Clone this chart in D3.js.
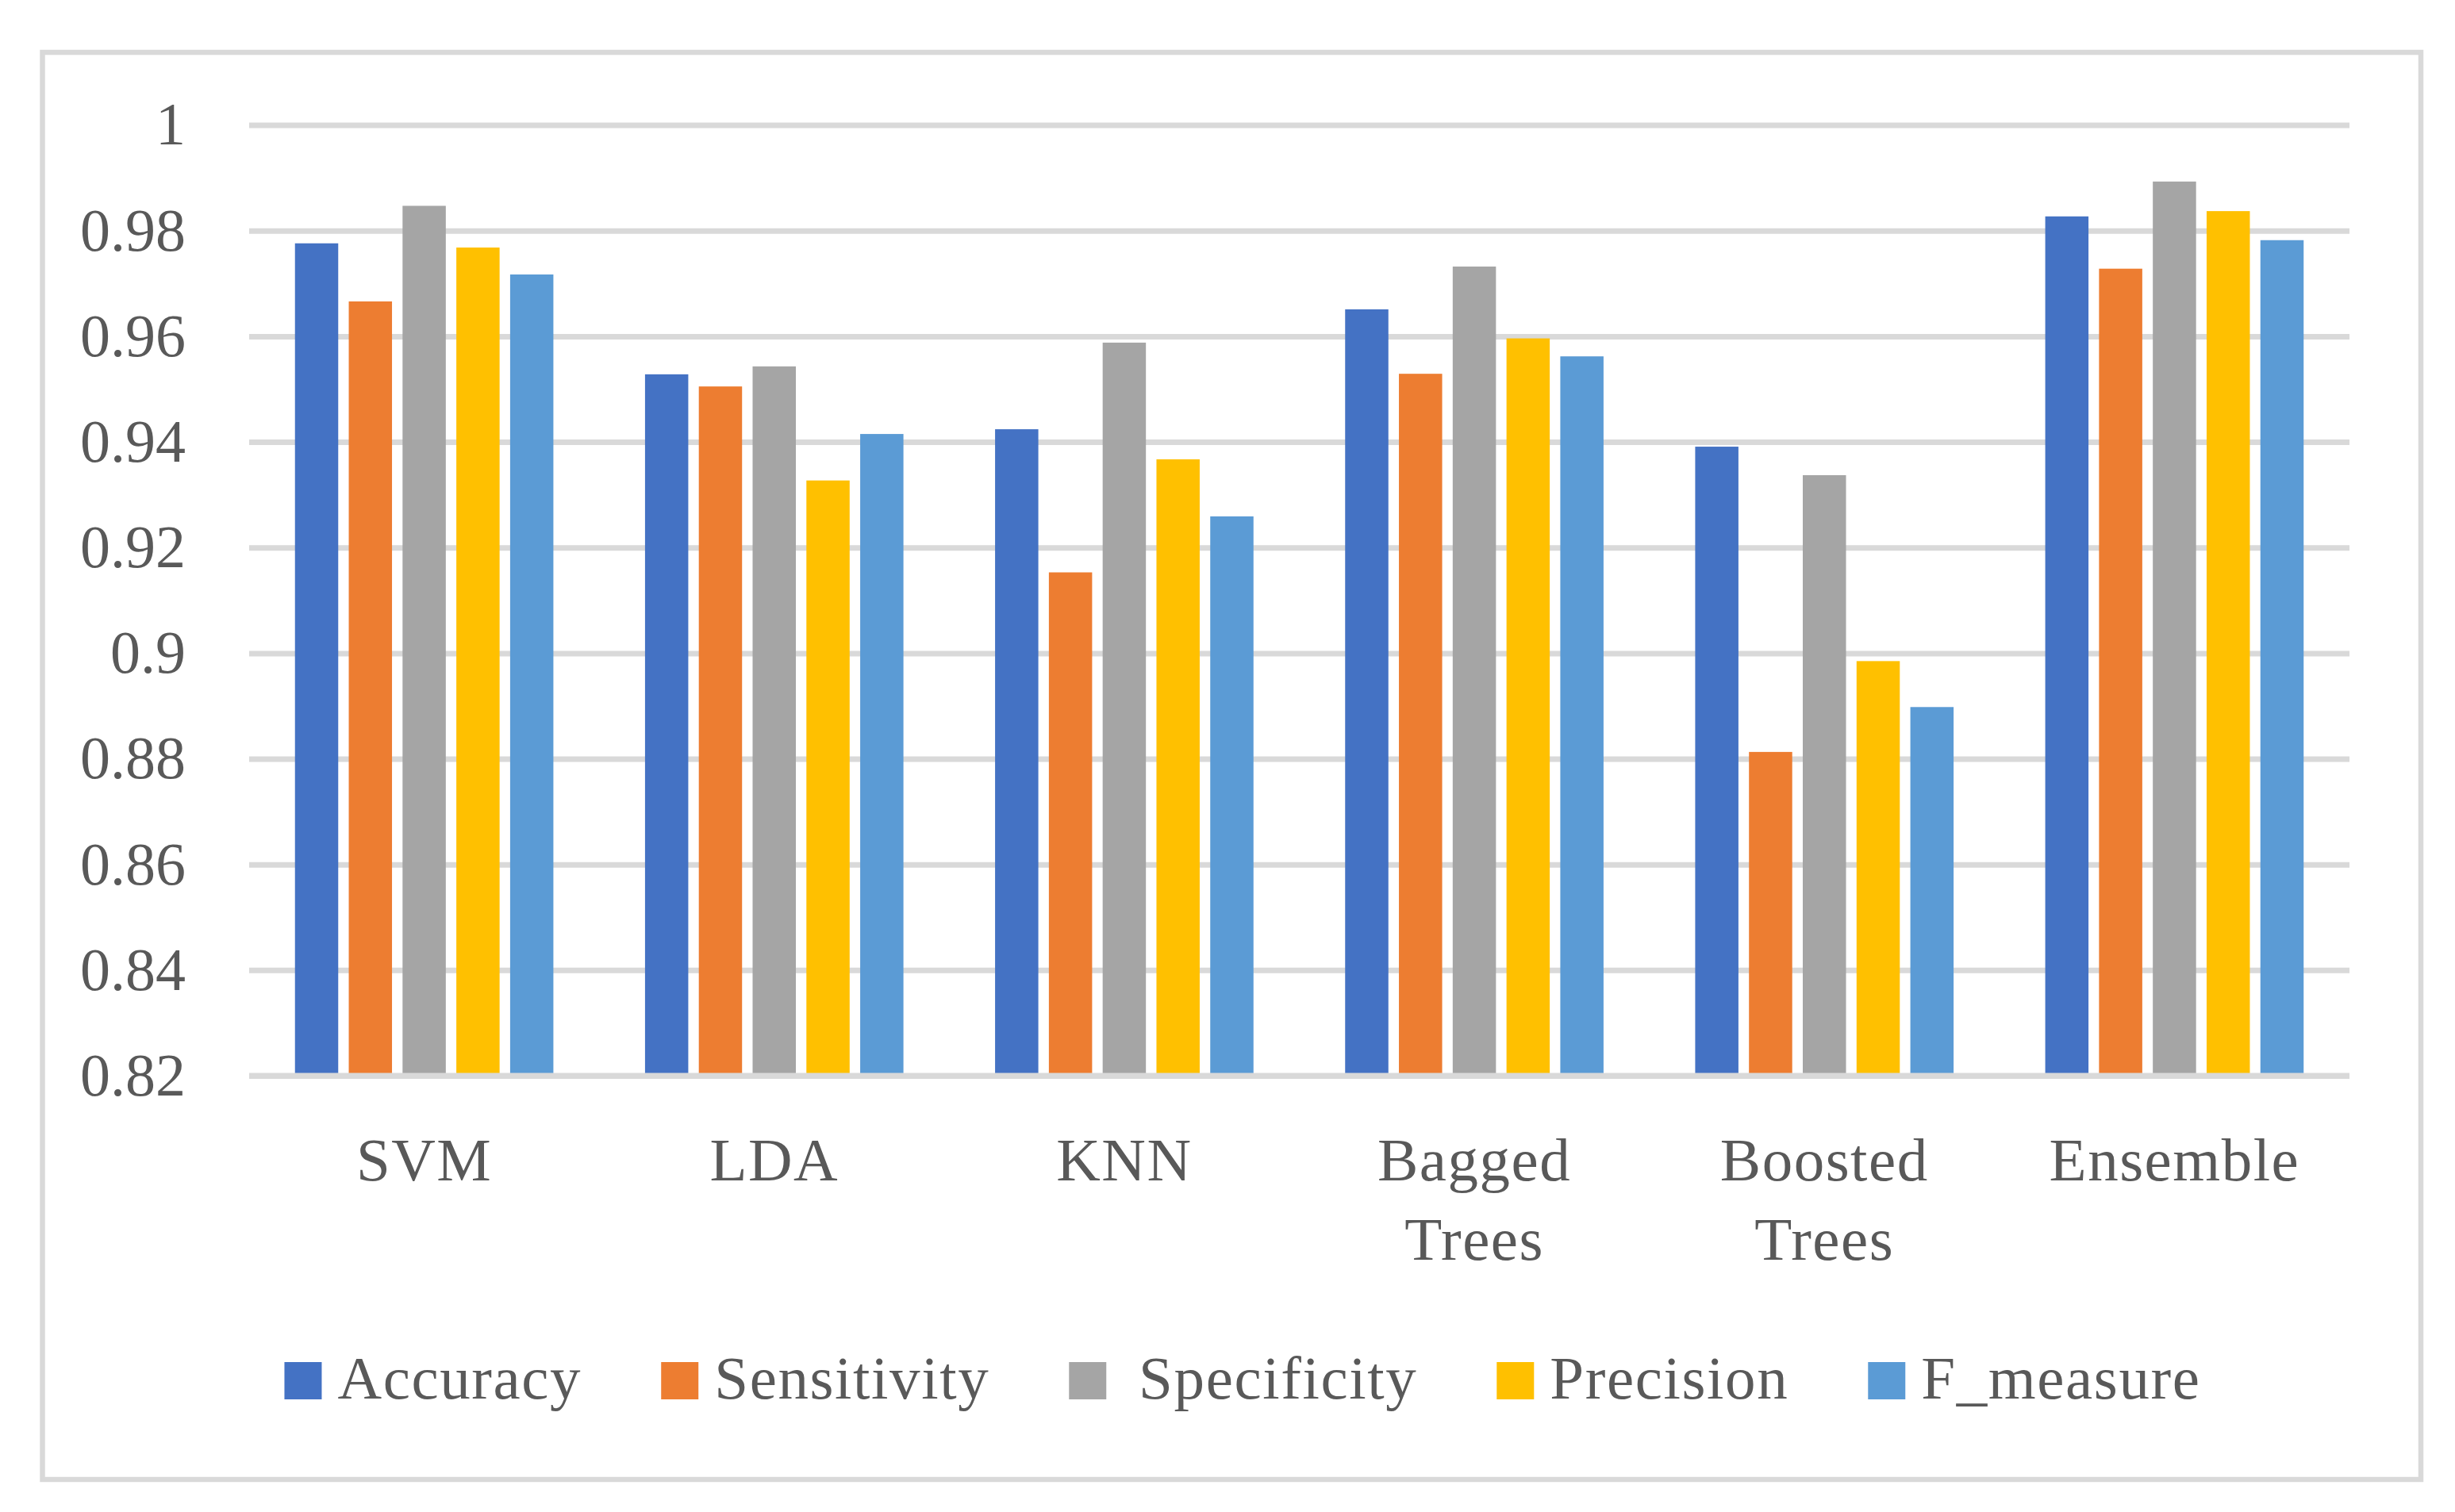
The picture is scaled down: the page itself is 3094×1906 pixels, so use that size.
<!DOCTYPE html>
<html>
<head>
<meta charset="utf-8">
<script src="https://cdn.jsdelivr.net/npm/d3@7"></script>
<style>
  html, body { margin: 0; padding: 0; background: #ffffff; }
  svg { display: block; }
  text { font-family: "Liberation Serif", "Times New Roman", serif; fill: #595959; }
</style>
</head>
<body>
<script>
// ---- data ----
const categories = ["SVM", "LDA", "KNN", "Bagged Trees", "Boosted Trees", "Ensemble"];
const seriesNames = ["Accuracy", "Sensitivity", " Specificity", "Precision", "F_measure"];
const accuracy    = [0.9776, 0.9528, 0.9424, 0.9651, 0.9391, 0.9827];
const sensitivity = [0.9666, 0.9505, 0.9153, 0.9529, 0.8813, 0.9728];
const specificity = [0.9847, 0.9543, 0.9588, 0.9732, 0.9337, 0.9893];
const precision   = [0.9768, 0.9327, 0.9367, 0.9596, 0.8985, 0.9837];
const fMeasure    = [0.9717, 0.9415, 0.9259, 0.9562, 0.8898, 0.9782];
const seriesColors = ["#4472C4", "#ED7D31", "#A5A5A5", "#FFC000", "#5B9BD5"];
const tickValues = [0.82, 0.84, 0.86, 0.88, 0.90, 0.92, 0.94, 0.96, 0.98, 1.0];
const tickLabels = ["0.82", "0.84", "0.86", "0.88", "0.9", "0.92", "0.94", "0.96", "0.98", "1"];

const seriesValues = [accuracy, sensitivity, specificity, precision, fMeasure];

// ---- layout ----
const W = 3094, H = 1906;
const plot = { left: 314, right: 2961, top: 157.6, bottom: 1356 };

const svg = d3.select("body").append("svg")
  .attr("width", W).attr("height", H)
  .attr("viewBox", `0 0 ${W} ${H}`);

svg.append("rect").attr("width", W).attr("height", H).attr("fill", "#ffffff");

// chart frame
svg.append("rect")
  .attr("x", 53.5).attr("y", 66)
  .attr("width", 2997.5).attr("height", 1799)
  .attr("fill", "#ffffff")
  .attr("stroke", "#D9D9D9")
  .attr("stroke-width", 6.5);

const y = d3.scaleLinear().domain([0.82, 1.0]).range([plot.bottom, plot.top]);

const x0 = d3.scaleBand()
  .domain(categories)
  .range([plot.left, plot.right])
  .paddingInner(0.2618)
  .paddingOuter(0.1309);

const x1 = d3.scaleBand()
  .domain(d3.range(seriesNames.length))
  .range([0, x0.bandwidth()])
  .paddingInner(0.196)
  .paddingOuter(0);

// gridlines + y labels
const yAxis = d3.axisLeft(y)
  .tickValues(tickValues)
  .tickSize(-(plot.right - plot.left))
  .tickPadding(80)
  .tickFormat((d, i) => tickLabels[i]);

const gy = svg.append("g")
  .attr("transform", `translate(${plot.left},0)`)
  .call(yAxis);
gy.select(".domain").remove();
gy.selectAll(".tick line").attr("stroke", "#D9D9D9").attr("stroke-width", 7);
gy.selectAll(".tick text")
  .attr("font-size", 76)
  .attr("fill", "#595959");

// bars
const groups = svg.append("g").selectAll("g")
  .data(categories)
  .join("g")
  .attr("transform", d => `translate(${x0(d)},0)`);

groups.selectAll("rect")
  .data((c, ci) => seriesValues.map((vals, si) => ({ si, v: vals[ci] })))
  .join("rect")
  .attr("x", d => x1(d.si))
  .attr("width", x1.bandwidth())
  .attr("y", d => y(d.v))
  .attr("height", d => y(0.82) - y(d.v))
  .attr("fill", d => seriesColors[d.si]);

// baseline over bars
svg.append("line")
  .attr("x1", plot.left).attr("x2", plot.right)
  .attr("y1", y(0.82)).attr("y2", y(0.82))
  .attr("stroke", "#D9D9D9").attr("stroke-width", 7);

// x axis labels
const xAxis = d3.axisBottom(x0).tickSize(0).tickPadding(0);
const gx = svg.append("g")
  .attr("transform", `translate(0,${plot.bottom})`)
  .call(xAxis);
gx.select(".domain").remove();
gx.selectAll(".tick text")
  .attr("font-size", 77)
  .attr("fill", "#595959")
  .attr("letter-spacing", 1.5)
  .attr("y", 132)
  .attr("dy", 0)
  .each(function(d) {
    const t = d3.select(this);
    const words = d.split(" ");
    t.text(null);
    words.forEach((w, i) => {
      t.append("tspan").attr("x", 0).attr("dy", i === 0 ? 0 : 100).text(w);
    });
  });

// legend
const legend = svg.append("g");
const sw = 47, swGap = 20, entryGap = 100;
const items = legend.selectAll("g").data(seriesNames).join("g");
items.append("rect")
  .attr("width", sw).attr("height", sw)
  .attr("y", 1717)
  .attr("fill", (d, i) => seriesColors[i]);
items.append("text")
  .attr("x", sw + swGap)
  .attr("y", 1763)
  .attr("font-size", 77)
  .attr("letter-spacing", 1.6)
  .attr("fill", "#595959")
  .style("white-space", "pre")
  .text(d => d);

let widths = [];
items.select("text").each(function() { widths.push(this.getComputedTextLength()); });
let total = 0;
const offsets = widths.map((w, i) => {
  const o = total;
  total += sw + swGap + w + (i < widths.length - 1 ? entryGap : 0);
  return o;
});
const startX = 1566 - total / 2;
items.attr("transform", (d, i) => `translate(${startX + offsets[i]},0)`);
</script>
</body>
</html>
